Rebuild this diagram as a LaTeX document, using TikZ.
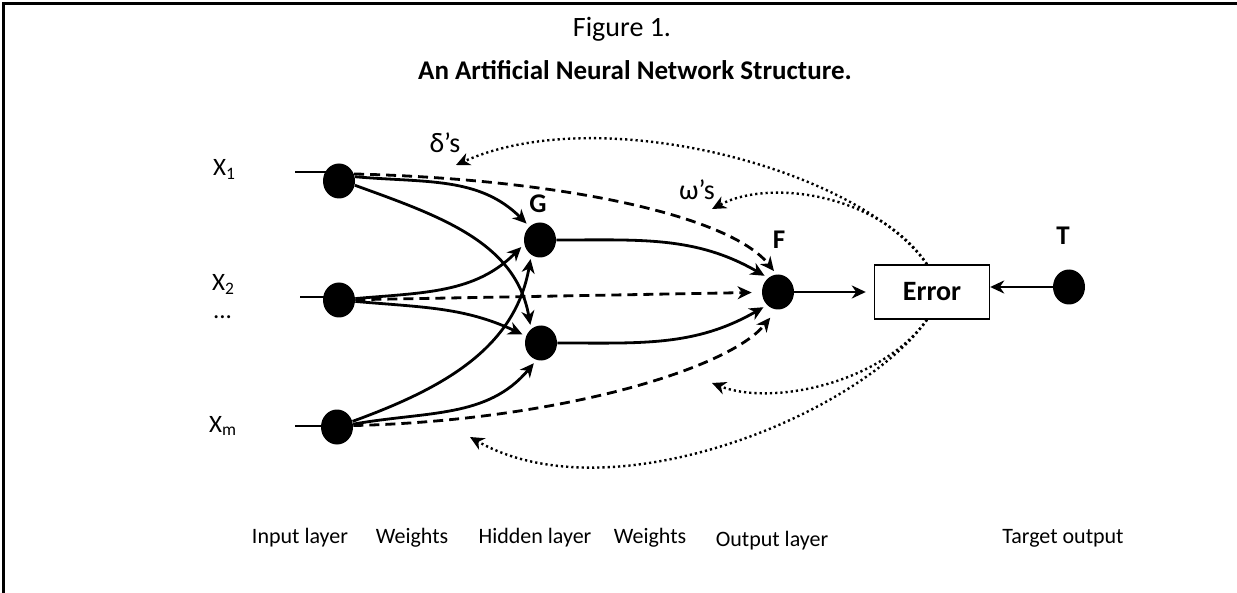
\documentclass[tikz,border=0pt]{standalone}
\usepackage{fontspec}
\setmainfont{Carlito}
\usepackage{tikz}
\usetikzlibrary{shapes.geometric,arrows.meta}

\begin{document}
\begin{tikzpicture}[x=0.5pt, y=-0.5pt,
    neuron/.style={ellipse, fill=black, minimum width=16pt, minimum height=17.5pt, inner sep=0pt},
    syn/.style={line width=1.4pt, shorten >=2pt, -{Stealth[length=7pt,width=6.5pt,inset=2.2pt]}},
    direct/.style={syn, dash pattern=on 5pt off 3pt},
    fb/.style={line width=1.2pt, dash pattern=on 1.1pt off 1.5pt, -{Stealth[length=7pt,width=6.5pt,inset=2.2pt]}},
    errbox/.style={draw, line width=0.7pt, minimum width=57.5pt, minimum height=27pt, font=\bfseries\fontsize{14}{16}\selectfont},
    xlbl/.style={anchor=base west, font=\fontsize{12.5}{15}\selectfont},
    bold/.style={anchor=base, font=\bfseries\fontsize{13.5}{16}\selectfont},
    greek/.style={anchor=base, font=\fontsize{14}{16}\selectfont},
    layer/.style={anchor=base, font=\fontsize{11}{13}\selectfont}]
  % Frame, only the top and left edges show
  \useasboundingbox (0,0) rectangle (1237,593);
  \draw[line width=1.5pt] (3,593) -- (3,4) -- (1237,4);

  % Title
  \node[anchor=base, font=\fontsize{14}{16}\selectfont] (fig) at (622,37) {Figure 1.};
  \node[anchor=base, font=\bfseries\fontsize{13.5}{16}\selectfont] (title) at (635,80) {An Artificial Neural Network Structure.};

  % Neurons
  \node[neuron] (x1) at (339,181) {};
  \node[neuron] (x2) at (339,300) {};
  \node[neuron] (xm) at (337,427) {};
  \node[neuron] (h1) at (540,240) {};
  \node[neuron] (h2) at (541,343) {};
  \node[neuron] (out) at (778,292) {};
  \node[neuron] (tgt) at (1069,287) {};
  \node[errbox] (err) at (932,292) {Error};

  % Input labels
  \node[xlbl] (lx1) at (206,176) {X\textsubscript{1}};
  \node[xlbl] (lx2) at (205,291) {X\textsubscript{2}};
  \node[xlbl] (ldots) at (206,319) {...};
  \node[xlbl] (lxm) at (202,432) {X\textsubscript{m}};
  \node[bold] (lg) at (538,213) {G};
  \node[bold] (lf) at (779,249) {F};
  \node[bold] (lt) at (1063,245) {T};
  \node[greek] (ldelta) at (445,153) {δ’s};
  \node[greek] (lomega) at (697,200) {ω’s};

  % Input lines
  \coordinate (a1) at (295,172);
  \coordinate (a2) at (300,297);
  \coordinate (am) at (295,426);
  \draw[line width=1.4pt] (a1) -- (a1 -| x1);
  \draw[line width=1.4pt] (a2) -- (a2 -| x2);
  \draw[line width=1.4pt] (am) -- (am -| xm);

  % Weights, input to hidden
  \draw[syn] (x1.15) to[out=-5,in=135] (h1.128);
  \draw[syn] (x1.-15) to[out=-20,in=100] (h2.125);
  \draw[syn] (x2.5) to[out=5,in=-135] (h1.195);
  \draw[syn] (x2.-5) to[out=-5,in=155] (h2.155);
  \draw[syn] (xm.20) to[out=20,in=-100] (h1.240);
  \draw[syn] (xm.10) to[out=10,in=-130] (h2.255);

  % Weights, hidden to output
  \draw[syn] (h1.east) to[out=0,in=150] (out.125);
  \draw[syn] (h2.east) to[out=0,in=-150] (out.230);

  % Direct links, input to output
  \draw[direct] (x1.25) .. controls +(205,5) and +(-47,-59) .. (out.95);
  \draw[direct, shorten >=5pt] (x2) -- (out);
  \draw[direct, shorten >=5pt] (xm.5) .. controls +(205,-5) and +(-47,59) .. (out.-95);

  % Output and target into error
  \draw[syn, shorten >=4pt] (out) -- (err);
  \draw[syn, shorten >=0pt] (tgt) -- (tgt -| err.east);

  % Error fed back
  \coordinate (eN) at ([xshift=-2.5pt]err.north);
  \coordinate (eS) at ([xshift=-2.5pt]err.south);
  \coordinate (dtop) at (456,165);
  \coordinate (wtop) at (712,209);
  \coordinate (wbot) at (712,383);
  \coordinate (dbot) at (470,437);
  \draw[fb] (eN) .. controls +(-67,-95) and +(144,-65) .. (dtop);
  \draw[fb] (eN) .. controls +(-47,-70) and +(58,-31) .. (wtop);
  \draw[fb] (eS) .. controls +(-47,65) and +(58,23) .. (wbot);
  \draw[fb] (eS) .. controls +(-67,95) and +(140,80) .. (dbot);

  % Layer names
  \node[layer] (lin) at (300,543) {Input layer};
  \node[layer] (lw1) at (412,543) {Weights};
  \node[layer] (lhid) at (535,543) {Hidden layer};
  \node[layer] (lw2) at (650,543) {Weights};
  \node[layer] (lout) at (772,546) {Output layer};
  \node[layer] (ltgt) at (1063,543) {Target output};
\end{tikzpicture}
\end{document}
